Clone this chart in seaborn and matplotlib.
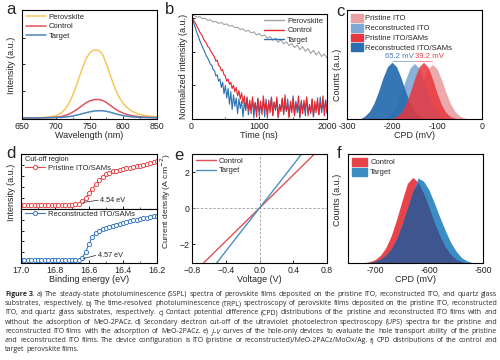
import numpy as np
import matplotlib
matplotlib.use("Agg")
import matplotlib.pyplot as plt
from matplotlib.patches import Patch
from matplotlib.lines import Line2D
import seaborn as sns

# ---------------- data ----------------
# (a) steady-state PL
wl = np.arange(650, 851, 5)
pl_perovskite = [0.0, 0.0, 0.0, 0.001, 0.002, 0.003, 0.004, 0.006, 0.009, 0.013, 0.02,
                 0.035, 0.055, 0.09, 0.14, 0.21, 0.29, 0.38, 0.47, 0.55, 0.60, 0.625, 0.63,
                 0.62, 0.58, 0.50, 0.41, 0.32, 0.24, 0.18, 0.135, 0.10, 0.075, 0.055, 0.042,
                 0.032, 0.025, 0.019, 0.015, 0.012, 0.010]
pl_control = [0, 0, 0, 0, 0, 0, 0.001, 0.002, 0.003, 0.004, 0.006,
              0.01, 0.015, 0.025, 0.037, 0.053, 0.073, 0.095, 0.118, 0.14, 0.157, 0.167, 0.171,
              0.17, 0.16, 0.143, 0.12, 0.097, 0.076, 0.058, 0.044, 0.033, 0.025, 0.019, 0.014,
              0.011, 0.008, 0.006, 0.005, 0.004, 0.003]
pl_target = [0, 0, 0, 0, 0, 0, 0.001, 0.001, 0.002, 0.002, 0.003,
             0.004, 0.006, 0.009, 0.013, 0.018, 0.024, 0.032, 0.04, 0.048, 0.056, 0.062, 0.066,
             0.067, 0.066, 0.061, 0.054, 0.045, 0.036, 0.028, 0.021, 0.016, 0.012, 0.009, 0.007,
             0.005, 0.004, 0.003, 0.002, 0.002, 0.001]

# (b) TRPL (normalized, read as fraction of axis height)
t_slow = np.arange(0, 2001, 40)
trpl_perovskite = [0.99, 0.985, 0.97, 0.975, 0.955, 0.96, 0.94, 0.945, 0.925, 0.93, 0.91,
                   0.92, 0.90, 0.905, 0.885, 0.89, 0.87, 0.875, 0.85, 0.86, 0.835, 0.845,
                   0.82, 0.83, 0.80, 0.815, 0.79, 0.80, 0.77, 0.785, 0.75, 0.77, 0.73, 0.755,
                   0.715, 0.735, 0.70, 0.72, 0.68, 0.705, 0.66, 0.69, 0.645, 0.67, 0.625,
                   0.655, 0.61, 0.64, 0.595, 0.62, 0.58]
t_fast = np.arange(0, 2001, 20)
trpl_control = [0.99, 0.96, 0.93, 0.91, 0.88, 0.86, 0.83, 0.81, 0.79, 0.76, 0.74, 0.72, 0.69,
                0.68, 0.65, 0.63, 0.61, 0.59, 0.55, 0.56, 0.51, 0.50, 0.46, 0.47, 0.42, 0.41,
                0.36, 0.38, 0.33, 0.35, 0.29, 0.32, 0.26, 0.30, 0.22, 0.27, 0.19, 0.25, 0.15,
                0.22, 0.10, 0.20, 0.08, 0.18, 0.05, 0.21, 0.09, 0.16, 0.02, 0.19, 0.07, 0.17,
                0.04, 0.22, 0.10, 0.15, 0.01, 0.18, 0.06, 0.20, 0.03, 0.16, 0.09, 0.21, 0.02,
                0.14, 0.07, 0.19, 0.04, 0.23, 0.08, 0.13, 0.01, 0.17, 0.06, 0.20, 0.03, 0.15,
                0.10, 0.22, 0.02, 0.16, 0.05, 0.18, 0.08, 0.21, 0.03, 0.14, 0.07, 0.19, 0.02,
                0.17, 0.06, 0.20, 0.04, 0.15, 0.09, 0.22, 0.03, 0.18, 0.07]
trpl_target = [0.99, 0.94, 0.90, 0.86, 0.82, 0.79, 0.75, 0.72, 0.69, 0.66, 0.63, 0.60, 0.58,
               0.55, 0.52, 0.51, 0.47, 0.46, 0.41, 0.42, 0.36, 0.38, 0.30, 0.35, 0.24, 0.32,
               0.20, 0.29, 0.14, 0.26, 0.09, 0.23, 0.12, 0.20, 0.05, 0.19, 0.10, 0.17, 0.02,
               0.16, 0.08, 0.21, 0.04, 0.14, 0.10, 0.18, 0.01, 0.15, 0.07, 0.20, 0.03, 0.13,
               0.09, 0.17, 0.02, 0.19, 0.06, 0.14, 0.11, 0.21, 0.04, 0.16, 0.08, 0.18, 0.01,
               0.13, 0.10, 0.20, 0.05, 0.15, 0.07, 0.19, 0.03, 0.14, 0.09, 0.22, 0.04, 0.17,
               0.06, 0.13, 0.01, 0.18, 0.08, 0.15, 0.03, 0.20, 0.07, 0.12, 0.05, 0.19, 0.02,
               0.14, 0.09, 0.17, 0.04, 0.21, 0.06, 0.15, 0.10, 0.18, 0.05]

# (c) CPD distributions of ITO films
cpd_x = np.arange(-300, 1, 10)
cpd_pristine_ito = [0] * 12 + [0.01, 0.028, 0.068, 0.139, 0.243, 0.363, 0.46, 0.5, 0.46,
                               0.363, 0.243, 0.139, 0.068, 0.028, 0.01] + [0] * 4
cpd_recon_ito = [0] * 8 + [0.007, 0.022, 0.058, 0.127, 0.233, 0.36, 0.467, 0.51, 0.467,
                           0.36, 0.233, 0.127, 0.058, 0.022, 0.007] + [0] * 8
cpd_pristine_sam = [0] * 10 + [0.007, 0.022, 0.059, 0.13, 0.238, 0.368, 0.477, 0.52, 0.477,
                               0.368, 0.238, 0.13, 0.059, 0.022, 0.007] + [0] * 6
cpd_recon_sam = [0, 0, 0, 0.002, 0.029, 0.070, 0.145, 0.253, 0.378, 0.48, 0.52, 0.48, 0.378,
                 0.253, 0.145, 0.07, 0.029, 0.01, 0.002] + [0] * 12

# (d) UPS cut-off
be = np.arange(17.0, 16.19, -0.02)
ups_pristine = [0.07, 0.07, 0.068, 0.07, 0.072, 0.07, 0.068, 0.07, 0.07, 0.072, 0.07, 0.07,
                0.072, 0.073, 0.075, 0.078, 0.082, 0.10, 0.14, 0.20, 0.29, 0.37, 0.45, 0.52,
                0.58, 0.63, 0.66, 0.685, 0.70, 0.715, 0.725, 0.74, 0.75, 0.765, 0.78, 0.79,
                0.805, 0.82, 0.835, 0.85, 0.865]
ups_recon = [0.05, 0.05, 0.048, 0.05, 0.05, 0.052, 0.05, 0.048, 0.05, 0.05, 0.05, 0.052,
             0.05, 0.05, 0.052, 0.053, 0.055, 0.06, 0.10, 0.20, 0.36, 0.48, 0.56, 0.60, 0.63,
             0.655, 0.675, 0.69, 0.71, 0.73, 0.745, 0.76, 0.775, 0.79, 0.80, 0.815, 0.83,
             0.84, 0.855, 0.865, 0.875]

# (e) J-V of hole-only devices
voltage = [-0.8, -0.6, -0.4, -0.2, 0.0, 0.2, 0.4, 0.6, 0.8]
j_control = [-3.68, -2.76, -1.84, -0.92, 0.0, 0.92, 1.84, 2.76, 3.68]
j_target = [-4.8, -3.6, -2.4, -1.2, 0.0, 1.2, 2.4, 3.6, 4.8]

# (f) CPD distributions of perovskite films
cpdf_x = np.arange(-750, -499, 10)
cpdf_control = [0, 0, 0, 0.003, 0.012, 0.03, 0.07, 0.14, 0.25, 0.40, 0.57, 0.73, 0.785,
                0.74, 0.64, 0.51, 0.37, 0.25, 0.15, 0.08, 0.035, 0.012, 0.003, 0, 0, 0]
cpdf_target = [0, 0, 0, 0, 0.005, 0.015, 0.035, 0.07, 0.13, 0.22, 0.35, 0.50, 0.66, 0.78,
               0.75, 0.67, 0.55, 0.42, 0.30, 0.19, 0.11, 0.05, 0.02, 0.005, 0, 0]

caption_lines = [
    "Figure 3.  a) The steady-state photoluminescence (SSPL) spectra of perovskite films deposited on the pristine ITO, reconstructed ITO, and quartz glass",
    "substrates, respectively. b) The time-resolved photoluminescence (TRPL) spectroscopy of perovskite films deposited on the pristine ITO, reconstructed",
    "ITO, and quartz glass substrates, respectively. c) Contact potential difference (CPD) distributions of the pristine and reconstructed ITO films with and",
    "without the adsorption of MeO-2PACz. d) Secondary electron cut-off of the ultraviolet photoelectron spectroscopy (UPS) spectra for the pristine and",
    "reconstructed ITO films with the adsorption of MeO-2PACz. e) J–V curves of the hole-only devices to evaluate the hole transport ability of the pristine",
    "and reconstructed ITO films. The device configuration is ITO (pristine or reconstructed)/MeO-2PACz/MoOx/Ag. f) CPD distributions of the control and",
    "target perovskite films.",
]

# ---------------- style ----------------
sns.set_theme(style="ticks")
plt.rcParams["font.family"] = ["Liberation Sans", "DejaVu Sans"]
plt.rcParams["axes.unicode_minus"] = True

W, H = 500, 360
fig = plt.figure(figsize=(5, 3.6), dpi=100)


def box(l, t, r, b):
    return fig.add_axes([l / W, 1 - b / H, (r - l) / W, (b - t) / H])


def ftext(x, y, s, **kw):
    kw.setdefault("ha", "center")
    kw.setdefault("va", "center")
    return fig.text(x / W, 1 - y / H, s, **kw)


def style(ax):
    ax.tick_params(direction="in", length=2.5, width=0.6, labelsize=6.3, pad=2,
                   colors="black", labelcolor="#222222")
    ax.tick_params(which="minor", direction="in", length=1.5, width=0.5)
    for sp in ax.spines.values():
        sp.set_linewidth(0.8)
        sp.set_color("black")


leg_kw = dict(fontsize=5.5, frameon=False, borderpad=0.2, borderaxespad=0.3,
              handletextpad=0.4, labelspacing=0.25)
lab_fs = 6.5

# ---------------- (a) ----------------
ax = box(22, 10, 157, 119)
c_per, c_ctl, c_tgt = "#F6C65B", "#E0535E", "#4A86B8"
sns.lineplot(x=wl, y=pl_perovskite, ax=ax, color=c_per, lw=1.1, errorbar=None)
sns.lineplot(x=wl, y=pl_control, ax=ax, color=c_ctl, lw=1.1, errorbar=None)
sns.lineplot(x=wl, y=pl_target, ax=ax, color=c_tgt, lw=1.1, errorbar=None)
ax.set_xlim(650, 850)
ax.set_ylim(-0.01, 1.0)
ax.set_xticks([650, 700, 750, 800, 850])
ax.set_xticks([675, 725, 775, 825], minor=True)
ax.set_yticks([0.245, 0.495, 0.745])
ax.set_yticklabels([])
style(ax)
ax.legend(handles=[Line2D([], [], color=c, lw=1.1) for c in (c_per, c_ctl, c_tgt)],
          labels=["Perovskite", "Control", "Target"], loc="upper left",
          handlelength=2.6, **leg_kw)
ftext(12, 65, "Intensity (a.u.)", rotation=90, fontsize=lab_fs)
ftext(89.5, 135, "Wavelength (nm)", fontsize=lab_fs)
ftext(11, 10, "a", fontsize=12)

# ---------------- (b) ----------------
ax = box(191.5, 14, 327, 119)
b_per, b_ctl, b_tgt = "#A3A3A3", "#E8252D", "#2C72B2"
sns.lineplot(x=t_slow, y=trpl_perovskite, ax=ax, color=b_per, lw=0.8, errorbar=None)
sns.lineplot(x=t_fast, y=trpl_target, ax=ax, color=b_tgt, lw=0.8, errorbar=None)
sns.lineplot(x=t_fast, y=trpl_control, ax=ax, color=b_ctl, lw=0.8, errorbar=None)
ax.set_xlim(0, 2000)
ax.set_ylim(0, 1.0)
ax.set_xticks([0, 1000, 2000])
ax.set_xticks([500, 1500], minor=True)
ax.set_yticks([0.32, 0.64, 0.96])
ax.set_yticklabels([])
style(ax)
ax.legend(handles=[Line2D([], [], color=c, lw=1.0) for c in (b_per, b_ctl, b_tgt)],
          labels=["Perovskite", "Control", "Target"], loc="upper right",
          handlelength=2.6, **leg_kw)
ftext(183, 66, "Normalized intensity (a.u.)", rotation=90, fontsize=lab_fs)
ftext(259, 135, "Time (ns)", fontsize=lab_fs)
ftext(170, 10, "b", fontsize=12)

# ---------------- (c) ----------------
ax = box(347, 10, 482, 119)
cc = {"pi": "#E9A0A3", "ri": "#7DAAD5", "ps": "#E8363E", "rs": "#2A6FB0"}
ax.fill_between(cpd_x, 0, cpd_pristine_ito, color=cc["pi"], alpha=0.9, lw=0)
ax.fill_between(cpd_x, 0, cpd_recon_ito, color=cc["ri"], alpha=0.9, lw=0)
ax.fill_between(cpd_x, 0, cpd_recon_sam, color=cc["rs"], alpha=0.95, lw=0)
ax.fill_between(cpd_x, 0, cpd_pristine_sam, color=cc["ps"], alpha=0.85, lw=0)
ax.set_xlim(-300, 0)
ax.set_ylim(0, 1.0)
ax.set_xticks([-300, -200, -100, 0])
ax.set_xticklabels(["-300", "-200", "-100", "0"])
ax.set_xticks([-250, -150, -50], minor=True)
ax.set_yticks([])
style(ax)
ax.text(-151, 0.575, "65.2 mV", color="#4A7CC0", fontsize=5.6, ha="right", va="center")
ax.text(-148, 0.575, "39.2 mV", color="#E04048", fontsize=5.6, ha="left", va="center")
ax.plot([-200, -152], [0.535, 0.535], color="#4A7CC0", lw=0.4)
ax.plot([-148, -112], [0.535, 0.535], color="#E04048", lw=0.4)
ax.legend(handles=[Patch(color=cc[k]) for k in ("pi", "ri", "ps", "rs")],
          labels=["Pristine ITO", "Reconstructed ITO", "Pristine ITO/SAMs",
                  "Reconstructed ITO/SAMs"],
          loc="upper left", handlelength=1.6, handleheight=1.2,
          fontsize=5.5, frameon=False, borderpad=0.2, borderaxespad=0.3,
          handletextpad=0.3, labelspacing=0.18)
ftext(338, 75, "Counts (a.u.)", rotation=90, fontsize=lab_fs)
ftext(414.5, 135, "CPD (mV)", fontsize=lab_fs)
ftext(340, 11, "c", fontsize=12)

# ---------------- (d) ----------------
d_red, d_blue = "#E8474A", "#3A7AC0"
axt = box(21, 154, 157, 209)
axb = box(21, 209, 157, 263)
for a_, y_, col in ((axt, ups_pristine, d_red), (axb, ups_recon, d_blue)):
    sns.lineplot(x=be, y=y_, ax=a_, color=col, lw=0.8, marker="o", markersize=3,
                 markerfacecolor="white", markeredgecolor=col, markeredgewidth=0.7,
                 errorbar=None, sort=False)
    a_.set_xlim(17.0, 16.2)
    a_.set_ylim(0, 1.0)
    a_.set_yticks([0.2, 0.4, 0.6, 0.8])
    a_.set_yticklabels([])
    a_.set_xticks([17.0, 16.8, 16.6, 16.4, 16.2])
    a_.set_xticks([16.9, 16.7, 16.5, 16.3], minor=True)
    style(a_)
axt.set_xticklabels([])
axb.set_xticklabels(["17.0", "16.8", "16.6", "16.4", "16.2"])
axt.text(0.03, 0.9, "Cut-off region", transform=axt.transAxes, fontsize=5.2,
         ha="left", va="center", color="#222222")
axt.legend(handles=[Line2D([], [], color=d_red, lw=0.8, marker="o", ms=3,
                           mfc="white", mec=d_red, mew=0.7)],
           labels=["Pristine ITO/SAMs"], loc="upper left", bbox_to_anchor=(0.0, 0.88),
           numpoints=1, handlelength=2.6, **leg_kw)
axb.legend(handles=[Line2D([], [], color=d_blue, lw=0.8, marker="o", ms=3,
                           mfc="white", mec=d_blue, mew=0.7)],
           labels=["Reconstructed ITO/SAMs"], loc="upper left", bbox_to_anchor=(0.0, 1.04),
           numpoints=1, handlelength=2.6, **leg_kw)
axt.plot([16.635, 16.545], [0.12, 0.16], color="#222222", lw=0.5)
axt.text(16.535, 0.16, "4.54 eV", fontsize=5.2, ha="left", va="center", color="#222222")
axb.plot([16.635, 16.56], [0.08, 0.14], color="#222222", lw=0.5)
axb.text(16.55, 0.14, "4.57 eV", fontsize=5.2, ha="left", va="center", color="#222222")
ftext(12, 192, "Intensity (a.u.)", rotation=90, fontsize=lab_fs)
ftext(89, 280, "Binding energy (eV)", fontsize=lab_fs)
ftext(11, 153, "d", fontsize=12)

# ---------------- (e) ----------------
ax = box(192, 154, 327, 263)
e_red, e_blue = "#E0505A", "#4A90C0"
ax.axhline(0, color="#9A9A9A", lw=0.6, ls=(0, (3, 2)))
ax.axvline(0, color="#9A9A9A", lw=0.6, ls=(0, (3, 2)))
sns.lineplot(x=voltage, y=j_control, ax=ax, color=e_red, lw=1.0, errorbar=None)
sns.lineplot(x=voltage, y=j_target, ax=ax, color=e_blue, lw=1.0, errorbar=None)
ax.set_xlim(-0.8, 0.8)
ax.set_ylim(-3.05, 3.0)
ax.set_xticks([-0.8, -0.4, 0.0, 0.4, 0.8])
ax.set_yticks([-2, 0, 2])
style(ax)
ax.legend(handles=[Line2D([], [], color=c, lw=1.0) for c in (e_red, e_blue)],
          labels=["Control", "Target"], loc="upper left", handlelength=2.6, **leg_kw)
ftext(166, 201, "Current density (A cm$^{-2}$)", rotation=90, fontsize=6.1)
ftext(259.5, 280, "Voltage (V)", fontsize=lab_fs)
ftext(179, 155, "e", fontsize=12)

# ---------------- (f) ----------------
ax = box(348, 154, 483, 263)
f_red, f_blue, f_mix = "#E8434A", "#3B8EC4", "#3E5590"
ax.fill_between(cpdf_x, 0, cpdf_control, color=f_red, lw=0)
ax.fill_between(cpdf_x, 0, cpdf_target, color=f_blue, lw=0)
ax.fill_between(cpdf_x, 0, np.minimum(cpdf_control, cpdf_target), color=f_mix, lw=0)
ax.set_xlim(-750, -500)
ax.set_ylim(0, 1.0)
ax.set_xticks([-700, -600, -500])
ax.set_xticklabels(["-700", "-600", "-500"])
ax.set_xticks([-650, -550], minor=True)
ax.set_yticks([])
style(ax)
ax.legend(handles=[Patch(color=f_red), Patch(color=f_blue)], labels=["Control", "Target"],
          loc="upper left", handlelength=2.0, handleheight=1.2, fontsize=5.5, frameon=False,
          borderpad=0.2, borderaxespad=0.3, handletextpad=0.4, labelspacing=0.2)
ftext(338, 200, "Counts (a.u.)", rotation=90, fontsize=lab_fs)
ftext(415.5, 280, "CPD (mV)", fontsize=lab_fs)
ftext(339, 153, "f", fontsize=12)

# ---------------- caption (justified) ----------------
renderer = fig.canvas.get_renderer()
cap_family = ["Open Sans", "DejaVu Sans"]
x_left, x_right = 5, 497

# pick a font size so that the widest line just fits
probe_fs = 5.0
widest = 0
for line in caption_lines[:-1]:
    t = fig.text(0, 0, line, fontsize=probe_fs, family=cap_family)
    widest = max(widest, t.get_window_extent(renderer).width)
    t.remove()
cap_fs = probe_fs * (x_right - x_left) / widest

for i, line in enumerate(caption_lines):
    ypx = 295.8 + i * 9.28
    words = [w for w in line.split(" ") if w != ""]
    arts = []
    for k, w in enumerate(words):
        weight = "bold" if (i == 0 and k < 2) else "normal"
        fstyle = "italic" if w == "J–V" else "normal"
        arts.append(fig.text(0, 1 - ypx / H, w, fontsize=cap_fs, family=cap_family,
                             weight=weight, style=fstyle, color="#2a2a2a",
                             va="baseline", ha="left"))
    widths = [a.get_window_extent(renderer).width for a in arts]
    if i == len(caption_lines) - 1:
        gap = cap_fs * 0.26 * 100 / 72
    else:
        gap = (x_right - x_left - sum(widths)) / (len(words) - 1)
    x = x_left
    for a, w in zip(arts, widths):
        a.set_x(x / W)
        x += w + gap

fig.savefig("out.png", dpi=100)
